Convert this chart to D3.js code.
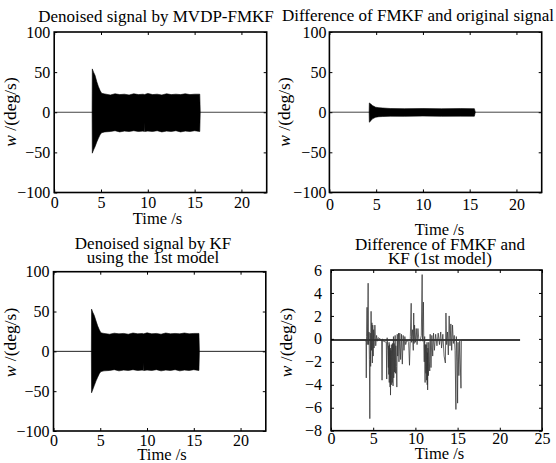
<!DOCTYPE html>
<html>
<head>
<meta charset="utf-8">
<script src="https://cdn.jsdelivr.net/npm/d3@7"></script>
<style>
  body { margin: 0; background: #fff; }
  text { font-family: "Liberation Serif", "Times New Roman", serif; fill: #000; }
</style>
</head>
<body>
<svg id="fig" width="556" height="463"></svg>
<script>
// tick values
const timeTicksA = [0, 5, 10, 15, 20];
const timeTicksB = [0, 5, 10, 15, 20, 25];
const wTicksA = [-100, -50, 0, 50, 100];
const wTicksB = [-8, -6, -4, -2, 0, 2, 4, 6];

// quiet parts of the record (deg/s = 0)
const quietTime = [0, 22.7];
const quietVal = [0, 0];

// MVDP-FMKF denoised signal, upper / lower envelope
const fmkfTime  = [4.05, 4.07, 4.2, 4.36, 4.55, 4.72, 4.9, 5.07, 5.4, 6.0, 6.5, 7.0, 7.5, 8.0, 8.5, 9.0, 9.5, 9.6, 9.63, 9.66, 10.0, 10.5, 11.0, 11.5, 12.0, 12.5, 13.0, 13.5, 14.0, 14.5, 15.0, 15.55, 15.6];
const fmkfUpper = [0, 54, 50, 46, 38, 32, 27, 23.6, 22.8, 21.5, 23, 22, 22.5, 21.5, 23, 22, 22.5, 22, 22, 22, 23.5, 22, 22.5, 21.5, 23, 22, 22.5, 22, 23, 22, 22.5, 22.5, 0];
const fmkfLower = [0, -51, -47, -43, -37, -32.5, -28, -25.4, -24.5, -24, -23, -24.5, -23.5, -24, -23, -24, -23.5, -24, -13, -24, -23.5, -24, -23, -24.5, -23.5, -24, -23, -24.5, -23.5, -24, -23, -24, 0];

// FMKF minus original signal envelope
const diffTime  = [4.25, 4.27, 4.45, 4.6, 4.95, 5.3, 5.7, 6.5, 8, 10, 12, 14, 15.5, 15.6];
const diffUpper = [0, 11.5, 10, 8.3, 6.2, 5.6, 5.2, 4.6, 4.4, 4.6, 4.3, 4.5, 4.4, 0];
const diffLower = [0, -12.5, -10.5, -8.3, -6.2, -5.6, -5.4, -5, -5.2, -4.8, -5.1, -4.9, -5, 0];

// KF (1st model) denoised signal envelope
const kfTime  = [4.05, 4.07, 4.2, 4.36, 4.55, 4.72, 4.9, 5.07, 5.4, 6.0, 6.5, 7.0, 7.5, 8.0, 8.5, 9.0, 9.5, 9.6, 9.63, 9.66, 10.0, 10.5, 11.0, 11.5, 12.0, 12.5, 13.0, 13.5, 14.0, 14.5, 15.0, 15.55, 15.6];
const kfUpper = [0, 53, 49, 45, 38, 32, 27, 23.2, 22.5, 21.5, 22.8, 22, 22.5, 21.5, 23, 22, 22.5, 22, 22, 22, 23.2, 22, 22.5, 21.5, 23, 22, 22.5, 22, 23, 22, 22.5, 22.5, 0];
const kfLower = [0, -52, -48, -43, -37, -32.5, -28, -25.4, -24.5, -24, -23, -24.5, -23.5, -24, -23, -24, -23.5, -24, -14, -24, -23.5, -24, -23, -24.5, -23.5, -24, -23, -24.5, -23.5, -24, -23, -24, 0];

// FMKF minus KF (1st model), sample values
const fkTime = [0, 4.1, 4.15, 4.18, 4.22, 4.27, 4.3, 4.35, 4.4, 4.45, 4.5, 4.55, 4.6, 4.65, 4.7, 4.75, 4.8, 4.85, 4.9, 4.95, 5.0, 5.05, 5.1, 5.2, 5.3, 5.4, 5.5, 5.6,
  6.0, 6.05, 6.1, 6.2, 6.55, 6.6, 6.65, 6.75, 6.8, 6.83, 6.85, 6.88, 6.9, 6.93, 6.95, 6.98, 7.0, 7.03, 7.05, 7.08, 7.1, 7.13, 7.15, 7.18, 7.2, 7.23, 7.25, 7.28,
  7.3, 7.33, 7.35, 7.38, 7.4, 7.43, 7.45, 7.48, 7.5, 7.53, 7.55, 7.58, 7.6, 7.63, 7.65, 7.68, 7.7, 7.75, 7.8, 7.85, 7.9,
  8.0, 8.05, 8.15, 8.25, 8.35, 8.45, 8.55, 8.65, 8.75, 8.85, 9.0, 9.2, 9.3, 9.4, 9.5, 9.55, 9.65, 9.75, 9.8, 9.85, 9.9, 10.0, 10.1, 10.2, 10.3, 10.4, 10.55, 10.7,
  10.8, 10.85, 10.95, 11.0, 11.05, 11.08, 11.1, 11.13, 11.15, 11.18, 11.2, 11.23, 11.25, 11.28, 11.3, 11.33, 11.35, 11.38, 11.4, 11.43, 11.45, 11.48, 11.5,
  11.53, 11.55, 11.58, 11.6, 11.65, 11.7, 11.75, 11.85, 11.95, 12.05, 12.15, 12.25, 12.4, 12.55,
  12.7, 12.85, 13.0, 13.1, 13.25, 13.4, 13.55, 13.62, 13.7, 13.8, 13.9, 14.0, 14.1, 14.2, 14.3, 14.4, 14.5, 14.6, 14.7, 14.8, 14.85, 14.95, 15.0, 15.05, 15.15,
  15.25, 15.4, 15.45, 15.6, 22.4];
const fkVal = [-0.1, -0.1, -0.3, -3.4, 0.2, 2.75, -0.5, 1.3, 4.85, -0.5, 0.6, -1.8, -6.95, 0.5, -2.4, 2.4, -1.0, 1.4, -2.1, 1.2, -1.5, 0.8, -0.8, 1.2, -0.6, 0.3, -0.2, 0.1,
  -0.1, -3.6, 0.0, -0.2, -0.3, -3.5, 0.1, -1.0, -2.5, -0.6, -3.1, -0.3, -3.8, -1.2, -0.5, -3.5, -4.2, -0.8, -4.9, -2.0, -1.0, -3.6, -4.0, -0.7, -0.5, -3.3, -3.8, -0.4,
  -1.5, -3.7, -4.1, -0.6, 0.2, -3.4, -3.0, -0.4, -0.5, -2.9, -2.6, -0.2, 0.3, -2.8, -3.0, -0.6, -0.8, -2.4, -4.2, 0.4, -1.5,
  0.5, -2.0, 0.5, -1.8, 0.4, -2.2, 0.3, -1.0, 0.2, -0.5, -0.1, -0.3, -2.3, 0.2, 3.1, -0.3, 0.8, -1.0, 2.25, -0.4, 1.2, -0.3, 0.9, -0.5, 0.9, 0.0, -0.2, 0.3,
  5.6, -0.2, 3.2, -0.5, -2.0, -0.4, 0.2, -2.9, -3.8, -0.6, -0.5, -2.7, -3.0, -0.5, -1.0, -3.6, -2.2, -0.3, -4.0, -1.2, -4.45, -0.8, -1.0,
  -3.1, -3.2, -0.3, -0.5, -2.0, -2.8, 0.4, -2.5, 0.3, -1.5, 0.5, -1.0, 0.4, -0.6,
  0.5, -0.5, 0.6, -0.8, 0.4, -1.5, -2.1, 2.25, -0.5, 0.6, -1.4, 2.0, -0.6, 1.3, -1.0, 1.2, -0.4, 0.3, -1.0, -6.15, 0.2, -2.0, -5.6, -0.3, -3.2,
  -0.2, -4.3, -0.1, -0.1, -0.1];
// level the FMKF-KF difference sits at outside the bursts
const fkRestTime = [0, 22.4];
const fkRestVal = [-0.1, -0.1];

const svg = d3.select('#fig');

function drawPanel(p) {
  const x = d3.scaleLinear().domain(p.xDomain).range([p.left, p.right]);
  const y = d3.scaleLinear().domain(p.yDomain).range([p.bottom, p.top]);
  const g = svg.append('g');
  const line = d3.line().x(d => x(d[0])).y(d => y(d[1]));

  const clipId = 'clip' + p.id;
  g.append('clipPath').attr('id', clipId)
    .append('rect')
    .attr('x', p.left).attr('y', p.top)
    .attr('width', p.right - p.left).attr('height', p.bottom - p.top);
  const plot = g.append('g').attr('clip-path', `url(#${clipId})`);

  // flat part of the record
  if (p.quiet) {
    plot.append('path')
      .attr('d', line(d3.zip(p.quiet[0], p.quiet[1])))
      .attr('fill', 'none').attr('stroke', p.quietColor).attr('stroke-width', p.quietWidth);
  }
  // dense oscillation drawn as its envelope
  if (p.env) {
    const area = d3.area()
      .x(d => x(d[0])).y0(d => y(d[2])).y1(d => y(d[1]));
    plot.append('path')
      .attr('d', area(d3.zip(p.env[0], p.env[1], p.env[2])))
      .attr('fill', '#000').attr('stroke', '#000').attr('stroke-width', 0.6);
  }
  // sampled trace
  if (p.trace) {
    plot.append('path')
      .attr('d', line(d3.zip(p.trace[0], p.trace[1])))
      .attr('fill', 'none').attr('stroke', '#333').attr('stroke-width', 0.75);
  }

  // axes with inward ticks
  const xAxis = g.append('g').attr('transform', `translate(0,${p.bottom})`)
    .call(d3.axisBottom(x).tickValues(p.xTicks).tickSizeInner(-3).tickSizeOuter(0).tickPadding(p.xPad));
  const yAxis = g.append('g').attr('transform', `translate(${p.left},0)`)
    .call(d3.axisLeft(y).tickValues(p.yTicks).tickSizeInner(-3).tickSizeOuter(0).tickPadding(p.yPad));
  g.append('g').attr('transform', `translate(0,${p.top})`)
    .call(d3.axisTop(x).tickValues(p.xTicks).tickSizeInner(-3).tickSizeOuter(0).tickFormat(''));
  g.append('g').attr('transform', `translate(${p.right},0)`)
    .call(d3.axisRight(y).tickValues(p.yTicks).tickSizeInner(-3).tickSizeOuter(0).tickFormat(''));
  g.selectAll('.domain').remove();
  g.selectAll('.tick line').attr('stroke', '#000').attr('stroke-width', 1);
  [xAxis, yAxis].forEach(a => a.attr('font-family', null).selectAll('text')
    .style('font-family', '"Liberation Serif", serif').style('font-size', '16px').attr('fill', '#000'));

  // box
  g.append('rect')
    .attr('x', p.left).attr('y', p.top)
    .attr('width', p.right - p.left).attr('height', p.bottom - p.top)
    .attr('fill', 'none').attr('stroke', '#000').attr('stroke-width', 1.6);

  // title
  p.title.forEach((t, i) => {
    g.append('text')
      .attr('x', p.titleX).attr('y', p.titleY + i * 14)
      .attr('text-anchor', 'middle')
      .style('font-size', '17px')
      .text(t);
  });
  // x label
  g.append('text')
    .attr('x', p.xLabelX).attr('y', p.xLabelY)
    .attr('text-anchor', 'middle')
    .style('font-size', '16.5px')
    .text('Time /s');
  // y label
  const yl = g.append('text')
    .attr('transform', `translate(${p.yLabelX},${p.yLabelY}) rotate(-90)`)
    .attr('text-anchor', 'middle')
    .style('font-size', '17.5px');
  yl.append('tspan').style('font-style', 'italic').text('w');
  yl.append('tspan').text(' /(deg/s)');
}

drawPanel({
  id: 1, left: 54.2, right: 266.7, top: 32, bottom: 192.5,
  xDomain: [0, 22.7], yDomain: [-100, 100], xTicks: timeTicksA, yTicks: wTicksA,
  xPad: 4, yPad: 4, quiet: [quietTime, quietVal], quietColor: '#444', quietWidth: 1,
  env: [fmkfTime, fmkfUpper, fmkfLower],
  title: ['Denoised signal by MVDP-FMKF'], titleX: 156, titleY: 21.5,
  xLabelX: 157.5, xLabelY: 224, yLabelX: 16, yLabelY: 112
});
drawPanel({
  id: 2, left: 329.4, right: 541.7, top: 32, bottom: 192.4,
  xDomain: [0, 22.7], yDomain: [-100, 100], xTicks: timeTicksA, yTicks: wTicksA,
  xPad: 6, yPad: 3, quiet: [quietTime, quietVal], quietColor: '#444', quietWidth: 1,
  env: [diffTime, diffUpper, diffLower],
  title: ['Difference of FMKF and original signal'], titleX: 418, titleY: 20.5,
  xLabelX: 439.5, xLabelY: 235, yLabelX: 290, yLabelY: 112
});
drawPanel({
  id: 3, left: 53.5, right: 265.8, top: 271.7, bottom: 431,
  xDomain: [0, 22.7], yDomain: [-100, 100], xTicks: timeTicksA, yTicks: wTicksA,
  xPad: 3.5, yPad: 4, quiet: [quietTime, quietVal], quietColor: '#222', quietWidth: 1,
  env: [kfTime, kfUpper, kfLower],
  title: ['Denoised signal by KF', 'using the 1st model'], titleX: 153, titleY: 248.5,
  xLabelX: 162, xLabelY: 460, yLabelX: 16, yLabelY: 342.5
});
drawPanel({
  id: 4, left: 331, right: 542, top: 270, bottom: 430.7,
  xDomain: [0, 25], yDomain: [-8, 6], xTicks: timeTicksB, yTicks: wTicksB,
  xPad: 1.5, yPad: 9, quiet: [fkRestTime, fkRestVal], quietColor: '#000', quietWidth: 1.6,
  trace: [fkTime, fkVal],
  title: ['Difference of FMKF and', 'KF (1st model)'], titleX: 440, titleY: 249.5,
  xLabelX: 439.5, xLabelY: 459, yLabelX: 292, yLabelY: 342.5
});
</script>
</body>
</html>
